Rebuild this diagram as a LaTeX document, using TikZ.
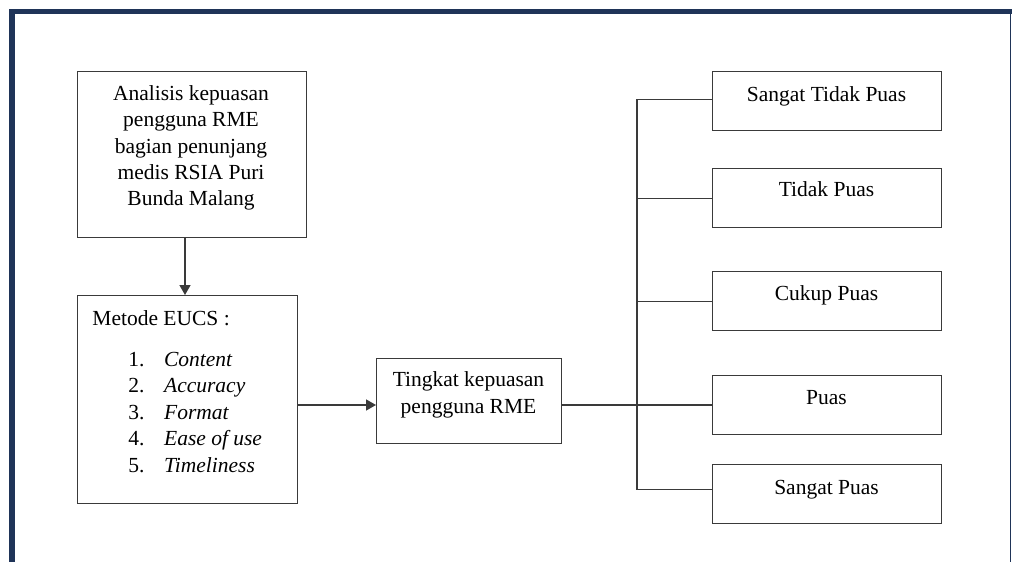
\documentclass[tikz,border=0pt]{standalone}
\usepackage{fontspec}
\setmainfont{Liberation Serif}
\usetikzlibrary{arrows.meta}
\definecolor{navy}{HTML}{1F3458}
\definecolor{linegray}{HTML}{3A3A3A}
\begin{document}
\begin{tikzpicture}[x=0.5pt,y=-0.5pt,
  box/.style={draw=linegray,line width=0.7pt,inner sep=0pt,anchor=north west,minimum width=#1},
  rbox/.style={box=114.5pt,minimum height=29.5pt},
  txt/.style={font=\fontsize{10.75}{13.2}\selectfont,inner sep=0pt,align=center},
  conn/.style={draw=linegray,line width=0.7pt},
  arr/.style={conn,-{Triangle[length=5pt,width=5.5pt]}}]
\useasboundingbox (0,0) rectangle (1012,562);
% frame
\fill[navy] (9,9) rectangle (1012,13.5);
\fill[navy] (9,9) rectangle (14.5,562);
\fill[navy] (1009.8,12) rectangle (1011.3,562);

% left boxes
\node[box=114.5pt,minimum height=83pt] (A) at (77,71) {};
\node[txt] (Atxt) at (191,148) {Analisis kepuasan\\pengguna RME\\bagian penunjang\\medis RSIA Puri\\Bunda Malang};

\node[box=110pt,minimum height=104pt] (B) at (77,295) {};
\node[txt,anchor=base west] (Btitle) at (92,325) {Metode EUCS :};
\node[txt,anchor=west] (Blist) at (128,414) {%
  \fontsize{10.75}{13.3}\selectfont
  \begin{tabular}{@{}l@{\hspace{9.8pt}}l@{}}
  1. & \textit{Content}\\
  2. & \textit{Accuracy}\\
  3. & \textit{Format}\\
  4. & \textit{Ease of use}\\
  5. & \textit{Timeliness}
  \end{tabular}};

\node[box=92.5pt,minimum height=42.5pt] (C) at (376,358) {};
\node[txt] (Ctxt) at (468.5,395) {Tingkat kepuasan\\pengguna RME};

% right boxes
\node[rbox] (R1) at (712,71) {};
\node[rbox] (R2) at (712,168) {};
\node[rbox] (R3) at (712,271) {};
\node[rbox] (R4) at (712,375) {};
\node[rbox] (R5) at (712,464) {};
\node[txt,anchor=base] (R1t) at (826.5,101) {Sangat Tidak Puas};
\node[txt,anchor=base] (R2t) at (826.5,196) {Tidak Puas};
\node[txt,anchor=base] (R3t) at (826.5,300) {Cukup Puas};
\node[txt,anchor=base] (R4t) at (826.5,404) {Puas};
\node[txt,anchor=base] (R5t) at (826.5,494) {Sangat Puas};

% connectors
\coordinate (ax) at (185,0);
\coordinate (my) at (0,405);
\coordinate (spine) at (637,0);
\coordinate (y1) at (0,99.5);
\coordinate (y5) at (0,489.5);
\draw[arr] (A.south -| ax) -- (B.north -| ax);
\draw[arr] (B.east |- my) -- (C.west |- my);
\draw[conn] (C.east |- my) -- (R4.west |- my);
\draw[conn] (R1.west |- y1) -- (spine |- y1) -- (spine |- y5) -- (R5.west |- y5);
\draw[conn] (R2.west) -- (R2.west -| spine);
\draw[conn] (R3.west) -- (R3.west -| spine);
\end{tikzpicture}
\end{document}
